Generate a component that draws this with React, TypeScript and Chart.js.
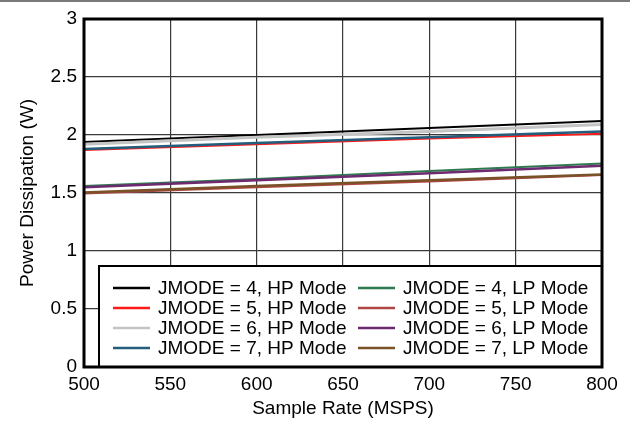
import React, { useEffect, useRef } from "react";
import { Chart, registerables } from "chart.js";

Chart.register(...registerables);

const sampleRates = [500, 600, 700, 800];
const hp4 = [1.94, 2.0, 2.06, 2.12];
const hp5 = [1.87, 1.92, 1.97, 2.01];
const hp6 = [1.92, 1.98, 2.03, 2.09];
const hp7 = [1.88, 1.93, 1.98, 2.03];
const lp4 = [1.56, 1.62, 1.69, 1.755];
const lp5 = [1.495, 1.55, 1.6, 1.655];
const lp6 = [1.55, 1.61, 1.67, 1.735];
const lp7 = [1.505, 1.56, 1.61, 1.66];

const seriesLabels = [
  "JMODE = 4, HP Mode",
  "JMODE = 5, HP Mode",
  "JMODE = 6, HP Mode",
  "JMODE = 7, HP Mode",
  "JMODE = 4, LP Mode",
  "JMODE = 5, LP Mode",
  "JMODE = 6, LP Mode",
  "JMODE = 7, LP Mode",
];
const seriesValues = [hp4, hp5, hp6, hp7, lp4, lp5, lp6, lp7];
const seriesColors = [
  "#000000",
  "#ff1a1a",
  "#c4c4c4",
  "#235f7d",
  "#2e7a50",
  "#b04545",
  "#6e2a6e",
  "#7a5228",
];
const seriesWidths = [2, 2, 3, 2.5, 2, 2, 2.5, 2.5];

const FONT = "'Liberation Sans', Arial, Helvetica, sans-serif";
const FS = 19;

const legendPlugin = {
  id: "customLegend",
  afterDatasetsDraw(chart: any) {
    const ctx = chart.ctx;
    const ca = chart.chartArea;
    const left = 99;
    const top = 266;
    const right = ca.right;
    const bottom = ca.bottom;
    ctx.save();
    ctx.fillStyle = "#ffffff";
    ctx.fillRect(left, top, right - left, bottom - top);
    ctx.lineWidth = 2;
    ctx.strokeStyle = "#000";
    ctx.strokeRect(left, top, right - left, bottom - top);
    ctx.font = `${FS}px ${FONT}`;
    ctx.textBaseline = "middle";
    ctx.textAlign = "left";
    for (let i = 0; i < 8; i++) {
      const col = Math.floor(i / 4);
      const row = i % 4;
      const y = 288 + row * 20;
      const x0 = col === 0 ? 113 : 358;
      ctx.strokeStyle = seriesColors[i];
      ctx.lineWidth = 2.5;
      ctx.beginPath();
      ctx.moveTo(x0, y);
      ctx.lineTo(x0 + 37, y);
      ctx.stroke();
      ctx.fillStyle = "#000";
      ctx.fillText(seriesLabels[i], x0 + 45, y + 1);
    }
    ctx.restore();
  },
  afterDraw(chart: any) {
    const ctx = chart.ctx;
    const ca = chart.chartArea;
    ctx.save();
    ctx.strokeStyle = "#000";
    ctx.lineWidth = 3;
    ctx.strokeRect(ca.left, ca.top, ca.right - ca.left, ca.bottom - ca.top);
    ctx.fillStyle = "#7a7a7a";
    ctx.fillRect(0, 0, chart.width, 2);
    ctx.restore();
  },
};

export default function App() {
  const ref = useRef<HTMLCanvasElement | null>(null);
  useEffect(() => {
    if (!ref.current) return;
    const chart = new Chart(ref.current, {
      type: "line",
      data: {
        datasets: seriesValues.map((vals, i) => ({
          label: seriesLabels[i],
          data: vals.map((v, j) => ({ x: sampleRates[j], y: v })),
          borderColor: seriesColors[i],
          backgroundColor: seriesColors[i],
          borderWidth: seriesWidths[i],
          pointRadius: 0,
          tension: 0,
          order: 8 - i,
        })),
      },
      options: {
        animation: false,
        responsive: false,
        devicePixelRatio: 1,
        layout: { padding: { left: 0, right: 28, top: 19, bottom: 0 } },
        plugins: { legend: { display: false }, tooltip: { enabled: false } },
        scales: {
          x: {
            type: "linear",
            min: 500,
            max: 800,
            ticks: {
              stepSize: 50,
              color: "#000",
              font: { family: FONT, size: FS },
              padding: 6,
              maxRotation: 0,
              callback: (v: any) => String(v),
            },
            grid: { color: "#3a3a3a", lineWidth: 1.2, drawTicks: false },
            border: { display: false },
            title: {
              display: true,
              text: "Sample Rate (MSPS)",
              color: "#000",
              font: { family: FONT, size: FS },
              padding: { top: 0, bottom: 3 },
            },
            afterFit(scale: any) {
              scale.height = 56;
            },
          },
          y: {
            min: 0,
            max: 3,
            ticks: {
              stepSize: 0.5,
              color: "#000",
              font: { family: FONT, size: FS },
              padding: 7,
              callback: (v: any) => String(v),
            },
            grid: { color: "#3a3a3a", lineWidth: 1.2, drawTicks: false },
            border: { display: false },
            title: {
              display: true,
              text: "Power Dissipation (W)",
              color: "#000",
              font: { family: FONT, size: FS },
              padding: { top: 16, bottom: 0 },
            },
            afterFit(scale: any) {
              scale.width = 84;
            },
          },
        },
      },
      plugins: [legendPlugin],
    });
    return () => chart.destroy();
  }, []);
  return (
    <div style={{ position: "fixed", left: 0, top: 0, width: 630, height: 423, background: "#fff" }}>
      <canvas ref={ref} width={630} height={423} style={{ display: "block" }} />
    </div>
  );
}
